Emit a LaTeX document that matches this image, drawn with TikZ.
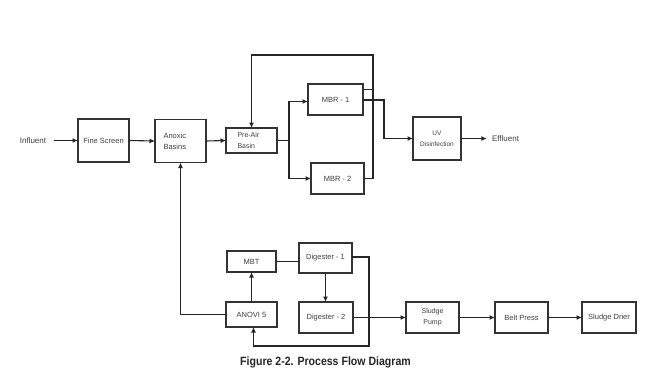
\documentclass[tikz,border=0pt]{standalone}
\usepackage{fontspec}
\setmainfont{Liberation Sans}
\usetikzlibrary{arrows.meta,calc}
\begin{document}
\begin{tikzpicture}[x=1pt,y=-1pt,
  box/.style={draw=black!80,line width=1.1pt,inner sep=0pt,outer sep=0pt,
    font=\fontsize{7.5}{10}\selectfont,text=black!75,align=center},
  lbl/.style={inner sep=0pt,font=\fontsize{8}{10}\selectfont,text=black!75},
  ln/.style={draw=black!85,line width=1.1pt},
  arr/.style={ln,-{Latex[length=5.5pt,width=5pt]}}]
\useasboundingbox[fill=white] (0,0) rectangle (668,384);

% top row
\node[lbl] (infl) at (33,140.5) {Influent};
\node[box,minimum width=51,minimum height=43] (fs) at (103.5,140.5) {Fine Screen};
\node[box,minimum width=51,minimum height=43,text width=34,align=left,font=\fontsize{7.5}{11}\selectfont] (ab) at (180.5,141) {Anoxic\\Basins};
\node[box,minimum width=51,minimum height=25,text width=28,align=left,font=\fontsize{7}{11}\selectfont] (pab) at (251.5,140.5) {Pre-Air\\Basin};
\node[box,minimum width=55,minimum height=31] (mbr1) at (335.5,99.5) {MBR - 1};
\node[box,minimum width=53,minimum height=31] (mbr2) at (337.5,178.5) {MBR - 2};
\node[box,minimum width=48,minimum height=43,font=\fontsize{6.5}{11}\selectfont] (uv) at (437,138.5) {UV\\Disinfection};
\node[lbl] (effl) at (505.5,138.5) {Effluent};

% bottom rows
\node[box,minimum width=49,minimum height=21] (mbt) at (251.5,261.5) {MBT};
\node[box,minimum width=53,minimum height=30] (dig1) at (325.5,258) {Digester - 1};
\node[box,minimum width=51,minimum height=25] (anovi) at (251.5,314.5) {ANOVI 5};
\node[box,minimum width=54,minimum height=31] (dig2) at (326,317.5) {Digester - 2};
\node[box,minimum width=53,minimum height=31,font=\fontsize{7}{11}\selectfont] (sp) at (432.5,317.5) {Sludge\\Pump};
\node[box,minimum width=53,minimum height=31] (bp) at (521.5,317.5) {Belt Press};
\node[box,minimum width=54,minimum height=31] (sd) at (609,317.5) {Sludge Drier};

% helper coordinates
\coordinate (split) at (289,140.5);
\coordinate (rx) at (373,55);
\coordinate (ux) at (384,100);
\coordinate (dx) at (369,346);

% top connectors
\draw[arr] ([xshift=8]infl.east) -- (fs.west);
\draw[arr] (fs.east) -- (ab.west);
\draw[arr] (ab.east) -- (pab.west);
\draw[ln] (pab.east) -- (split);
\draw[arr] (split) |- ([yshift=-2]mbr1.west);
\draw[arr] (split) |- (mbr2.west);
\draw[arr] (mbr2.east) -| (rx) -| (pab.north);
\draw[ln] ([yshift=10]mbr1.east) -- ([yshift=10]mbr1.east -| rx);
\draw[arr] (mbr1.east |- ux) -- (ux) |- (uv.west);
\draw[arr] (uv.east) -- ([xshift=-5]effl.west);

% bottom connectors
\draw[arr] (anovi.west) -| (ab.south);
\draw[arr] (anovi.north) -- (mbt.south);
\draw[ln] (mbt.east) -- (mbt.east -| dig1.west);
\draw[arr] (dig1.south) -- (dig1.south |- dig2.north);
\draw[arr] ([yshift=1]dig1.east) -| (dx) -| ([xshift=2]anovi.south);
\draw[arr] (dig2.east) -- (sp.west);
\draw[arr] (sp.east) -- (bp.west);
\draw[arr] (bp.east) -- (sd.west);

% caption
\node[inner sep=0pt,font=\bfseries\fontsize{12}{14}\selectfont,text=black!85] (cap) at (325.5,362)
  {\scalebox{0.88}[1]{Figure 2-2. Process Flow Diagram}};
\end{tikzpicture}
\end{document}
